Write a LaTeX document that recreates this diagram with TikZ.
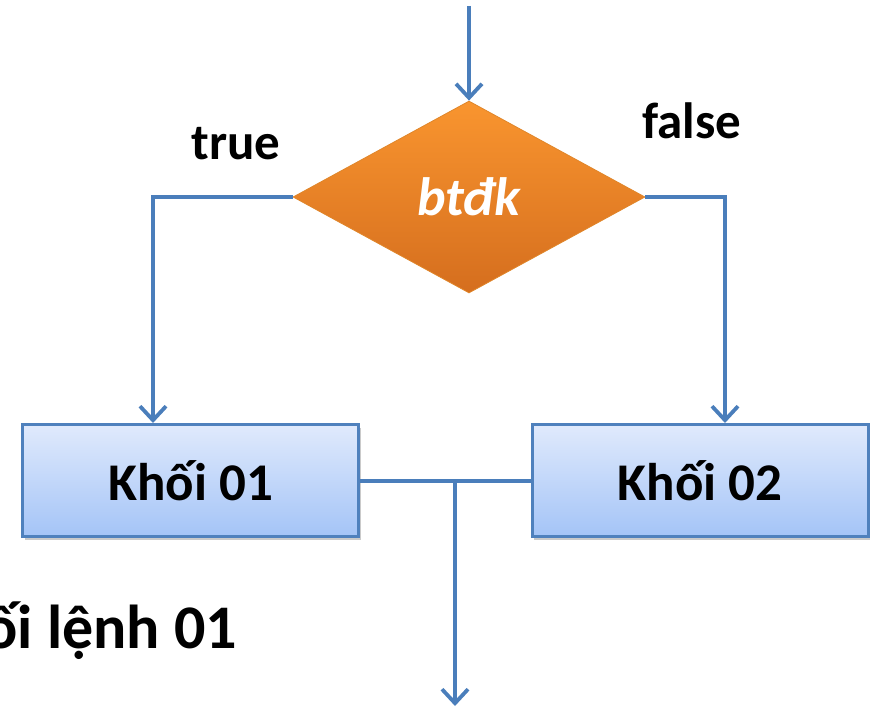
\documentclass[tikz,border=0pt]{standalone}
\usepackage{fontspec}
\setmainfont{Carlito}
\usetikzlibrary{shapes.geometric,arrows.meta,shadows}

\definecolor{flowline}{HTML}{4A7EBB}
\definecolor{boxedge}{HTML}{4F81BD}
\definecolor{boxtop}{HTML}{E0EAFC}
\definecolor{boxbottom}{HTML}{A4C4F7}
\definecolor{condtop}{HTML}{F9952F}
\definecolor{condbottom}{HTML}{D56E1E}

\tikzset{
  flow/.style={draw=flowline, line width=4pt},
  tip/.style={-{Straight Barb[length=14pt,width=26pt,line width=3.8pt]}},
  blockbox/.style={rectangle, draw=boxedge, line width=3pt,
    top color=boxtop, bottom color=boxbottom,
    minimum width=336pt, minimum height=112pt, inner sep=0pt,
    drop shadow={shadow xshift=2pt, shadow yshift=-3pt, opacity=.35, fill=black!60},
    font=\fontsize{53}{60}\selectfont\bfseries},
  condbox/.style={diamond, shape aspect=1.8, inner sep=0pt,
    minimum width=352pt, minimum height=192pt,
    top color=condtop, bottom color=condbottom, draw=condtop!90!black, line width=0.8pt,
    text=white, font=\fontsize{54}{60}\selectfont\bfseries\itshape},
  branchlabel/.style={anchor=base, font=\fontsize{51}{58}\selectfont\bfseries},
}

\begin{document}
\begin{tikzpicture}[x=1pt,y=-1pt]
\useasboundingbox (0,0) rectangle (873,714);

% decision and the two blocks
\node[condbox] (cond) at (469,197) {btđk};
\node[blockbox] (b1) at (190.5,480.5) {Khối 01};
\node[blockbox] (b2) at (700,480.5) {Khối 02};

% branch labels
\node[branchlabel] (ltrue) at (236,160) {true};
\node[branchlabel] (lfalse) at (692,139) {false};

% caption partly outside the page
\node[anchor=base east, inner sep=0pt, font=\fontsize{62}{70}\selectfont\bfseries] (cap) at (237,648) {Khối lệnh 01};

% connectors
\coordinate (entry) at (469,6);
\coordinate (merge) at (455,480);
\coordinate (exit) at (455,706);

\draw[flow,tip] (entry) -- (cond.north);
\draw[flow,tip] (cond.west) -| ([xshift=-37.5pt]b1.north);
\draw[flow,tip] (cond.east) -| ([xshift=25pt]b2.north);
\draw[flow] (b1.east) -- (b2.west);
\draw[flow,tip] (merge) -- (exit);
\end{tikzpicture}
\end{document}
